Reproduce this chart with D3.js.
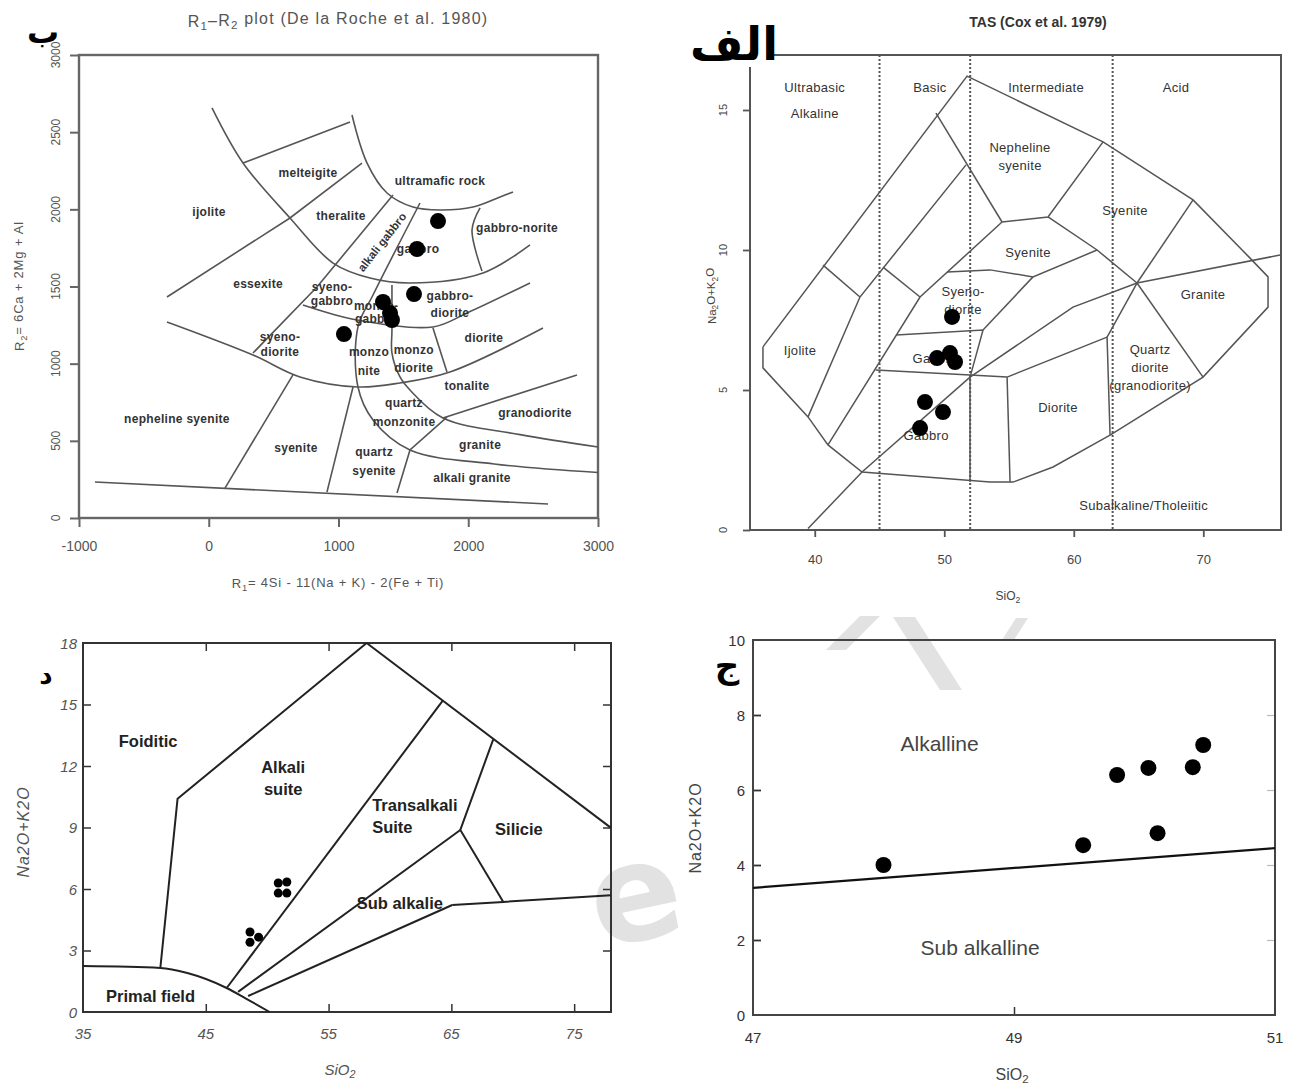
<!DOCTYPE html>
<html>
<head>
<meta charset="utf-8">
<script src="https://cdn.jsdelivr.net/npm/d3@7"></script>
<style>
  body { margin: 0; background: #fff; }
  svg { display: block; }
</style>
</head>
<body>
<svg id="fig" width="1289" height="1090"></svg>
<script>
// ===================== data =====================
// R1-R2 diagram (De la Roche et al. 1980)
const r1r2XTicks = [-1000, 0, 1000, 2000, 3000];
const r1r2YTicks = [0, 500, 1000, 1500, 2000, 2500, 3000];
const r1r2Samples = [[1767, 1924], [1605, 1743], [1582, 1451], [1343, 1400], [1397, 1328], [1412, 1283], [1042, 1192]];
const r1r2Straight = [
  [[-877, 233], [2615, 91]],
  [[264, 2300], [1089, 2566]],
  [[-322, 1432], [626, 1944], [1181, 2300]],
  [[1420, 2093], [834, 1497], [341, 1069]],
  [[649, 927], [125, 194]],
  [[1112, 849], [911, 168]],
  [[1836, 654], [1551, 441], [1451, 162]],
  [[1805, 648], [2838, 927]],
  [[1728, 1231], [1836, 946]]
];
const r1r2Curved = [
  [[1104, 2611], [1220, 2300], [1374, 2106], [1574, 2015], [1782, 1996], [2037, 2015], [2245, 2080], [2345, 2112]],
  [[25, 2657], [264, 2300], [626, 1944], [958, 1652], [1243, 1555], [1551, 1523], [2114, 1588], [2476, 1769]],
  [[-322, 1270], [341, 1056], [703, 914], [1150, 849], [1474, 875], [1859, 946], [2576, 1231]],
  [[1628, 2041], [1266, 1445], [1150, 1238], [1150, 849], [1266, 635], [1551, 441], [2200, 350], [3000, 295]],
  [[1412, 1510], [1412, 1218], [1412, 1069], [1474, 914], [1551, 829], [1805, 648], [2400, 540], [3000, 460]],
  [[726, 1380], [1143, 1283], [1728, 1238], [1990, 1328], [2476, 1523]],
  [[2091, 2009], [2029, 1866], [2106, 1600]]
];
const r1r2Names = [
  { t: ["melteigite"], x: 765, y: 2235 },
  { t: ["ultramafic rock"], x: 1782, y: 2184 },
  { t: ["ijolite"], x: 2, y: 1983 },
  { t: ["theralite"], x: 1019, y: 1957 },
  { t: ["gabbro-norite"], x: 2376, y: 1879 },
  { t: ["gabbro"], x: 1613, y: 1743 },
  { t: ["essexite"], x: 380, y: 1516 },
  { t: ["syeno-", "gabbro"], x: 950, y: 1497, lh: 14 },
  { t: ["monzo-", "gabbro"], x: 1290, y: 1372, lh: 13 },
  { t: ["gabbro-", "diorite"], x: 1859, y: 1438, lh: 17 },
  { t: ["diorite"], x: 2121, y: 1166 },
  { t: ["syeno-", "diorite"], x: 549, y: 1173, lh: 15 },
  { t: ["monzo", "nite"], x: 1235, y: 1076, lh: 19 },
  { t: ["monzo", "diorite"], x: 1580, y: 1089, lh: 18 },
  { t: ["tonalite"], x: 1990, y: 855 },
  { t: ["nepheline syenite"], x: -245, y: 641 },
  { t: ["syenite"], x: 672, y: 454 },
  { t: ["quartz", "monzonite"], x: 1505, y: 745, lh: 19 },
  { t: ["granodiorite"], x: 2514, y: 680 },
  { t: ["granite"], x: 2091, y: 473 },
  { t: ["quartz", "syenite"], x: 1274, y: 428, lh: 19 },
  { t: ["alkali granite"], x: 2029, y: 259 }
];

// TAS diagram (Cox et al. 1979)
const tasXTicks = [40, 50, 60, 70];
const tasYTicks = [0, 5, 10, 15];
const tasDivisions = [45, 52, 63];
const tasSamples = [[50.6, 7.61], [49.44, 6.14], [50.44, 6.32], [50.83, 6.0], [48.51, 4.57], [49.9, 4.21], [48.13, 3.64]];
const tasOutline = [[36.0, 6.54], [51.76, 16.21], [62.26, 13.86], [69.21, 11.79], [73.61, 9.71], [75.0, 9.04], [75.0, 7.96],
  [69.98, 5.46], [62.8, 3.39], [58.4, 2.25], [55.31, 1.71], [53.53, 1.71], [43.65, 2.07], [41.02, 3.04], [39.48, 4.04],
  [36.0, 5.79], [36.0, 6.54]];
const tasAlkalineLine = [[39.48, 0.05], [43.65, 2.07], [51.99, 5.46], [59.94, 7.96], [64.88, 8.82], [75.93, 9.82]];
const tasBoundaries = [
  [[40.64, 9.46], [43.49, 8.32]],
  [[39.48, 4.04], [43.49, 8.32], [51.68, 13.04]],
  [[45.27, 9.39], [48.13, 8.32]],
  [[41.02, 3.04], [48.13, 8.32], [54.46, 11.0]],
  [[49.36, 14.89], [54.46, 11.0]],
  [[54.46, 11.0], [58.01, 11.18], [62.26, 13.86]],
  [[58.01, 11.18], [61.8, 10.0], [64.88, 8.82]],
  [[69.21, 11.79], [64.88, 8.82]],
  [[64.88, 8.82], [69.98, 5.46]],
  [[64.88, 8.82], [62.57, 6.89], [62.8, 3.39]],
  [[54.85, 5.46], [62.57, 6.89]],
  [[54.85, 5.46], [55.08, 1.71]],
  [[44.7, 5.71], [51.99, 5.54], [54.85, 5.46]],
  [[51.99, 5.46], [51.99, 1.71]],
  [[46.27, 6.96], [52.99, 7.14], [51.99, 5.46]],
  [[50.21, 9.21], [53.53, 9.29], [56.85, 9.04], [61.8, 10.0]],
  [[56.85, 9.04], [52.99, 7.14]]
];
const tasNames = [
  { t: ["Ultrabasic", "Alkaline"], x: 40.0, y: 15.82, lh: 26 },
  { t: ["Basic"], x: 48.9, y: 15.82 },
  { t: ["Intermediate"], x: 57.86, y: 15.82 },
  { t: ["Acid"], x: 67.9, y: 15.82 },
  { t: ["Nepheline", "syenite"], x: 55.85, y: 13.68 },
  { t: ["Syenite"], x: 63.96, y: 11.43 },
  { t: ["Syenite"], x: 56.47, y: 9.93 },
  { t: ["Granite"], x: 69.98, y: 8.43 },
  { t: ["Syeno-", "diorite"], x: 51.45, y: 8.54 },
  { t: ["Gabbro"], x: 49.3, y: 6.14 },
  { t: ["Ijolite"], x: 38.86, y: 6.43 },
  { t: ["Quartz", "diorite", "(granodiorite)"], x: 65.89, y: 6.46 },
  { t: ["Diorite"], x: 58.78, y: 4.39 },
  { t: ["Gabbro"], x: 48.6, y: 3.39 },
  { t: ["Subalkaline/Tholeiitic"], x: 65.4, y: 0.89 }
];

// Alkali-silica series diagram
const serXTicks = [35, 45, 55, 65, 75];
const serYTicks = [0, 3, 6, 9, 12, 15, 18];
const serSamples = [[50.9, 6.29], [51.6, 6.34], [50.9, 5.8], [51.6, 5.8], [48.6, 3.9], [49.3, 3.65], [48.6, 3.4]];
const serPrimal = [[35, 2.24], [41.3, 2.15], [43.5, 1.9], [46.7, 1.17], [48.2, 0.68], [50.2, 0]];
const serBoundaries = [
  [[41.3, 2.15], [42.7, 10.4], [58.1, 18]],
  [[58.1, 18], [78, 8.98]],
  [[64.3, 15.19], [46.7, 1.17]],
  [[65.73, 8.88], [47.63, 0.98]],
  [[65.07, 5.22], [48.45, 0.78]],
  [[65.07, 5.22], [69.23, 5.37], [78, 5.7]],
  [[68.41, 13.3], [65.73, 8.88], [69.23, 5.37]]
];
const serNames = [
  { t: ["Foiditic"], x: 40.3, y: 13.2, a: "middle" },
  { t: ["Alkali", "suite"], x: 51.3, y: 11.95, a: "middle" },
  { t: ["Transalkali", "Suite"], x: 58.55, y: 10.1, a: "start" },
  { t: ["Silicie"], x: 70.5, y: 8.93, a: "middle" },
  { t: ["Sub alkalie"], x: 60.8, y: 5.32, a: "middle" },
  { t: ["Primal field"], x: 40.5, y: 0.78, a: "middle" }
];

// Alkaline / sub-alkaline divide
const divXTicks = [47, 49, 51];
const divYTicks = [0, 2, 4, 6, 8, 10];
const divSamples = [[48.0, 4.0], [49.53, 4.53], [49.79, 6.4], [50.03, 6.59], [50.1, 4.85], [50.37, 6.61], [50.45, 7.2]];
const divLine = [[47, 3.39], [51, 4.45]];

// ===================== drawing =====================
const FONT = "'Liberation Sans', Arial, Helvetica, sans-serif";
const ARABIC = "'DejaVu Sans', sans-serif";
const svg = d3.select("#fig");
svg.append("rect").attr("width", 1289).attr("height", 1090).attr("fill", "#fff");

// faint background stamp behind the lower panels
{
  const wm = svg.append("g").attr("fill", "#e2e2e2").attr("stroke", "none");
  wm.append("text").attr("x", 636).attr("y", 940).attr("text-anchor", "middle")
    .attr("font-family", ARABIC).attr("font-weight", "bold").attr("font-size", 135)
    .attr("transform", "rotate(-12,636,900)").text("e");
  wm.append("path").attr("d", "M826,650 L846,650 L880,616 L860,616 Z");
  wm.append("path").attr("d", "M893,617 L915,617 L962,690 L940,690 Z");
  wm.append("path").attr("d", "M1002,640 L1014,640 L1028,618 L1016,618 Z");
}

const pathOf = (sx, sy, curve) => d3.line().x(d => sx(d[0])).y(d => sy(d[1])).curve(curve || d3.curveLinear);

// text with subscript parts: [[text, isSub], ...]
function rich(sel, parts) {
  parts.forEach(([s, isSub], i) => {
    const t = sel.append("tspan").text(s);
    if (isSub) t.attr("font-size", "72%").attr("dy", "0.3em");
    else if (i > 0 && parts[i - 1][1]) t.attr("dy", "-0.3em");
  });
  return sel;
}

function multiLine(g, names, sx, sy, opts) {
  names.forEach(n => {
    const lh = n.lh || opts.lh;
    const t = g.append("text")
      .attr("x", sx(n.x)).attr("y", sy(n.y))
      .attr("text-anchor", n.a || "middle")
      .attr("dominant-baseline", "central")
      .attr("font-family", FONT).attr("font-size", opts.size)
      .attr("font-weight", opts.weight || "normal")
      .attr("letter-spacing", opts.ls || 0)
      .attr("fill", opts.fill);
    n.t.forEach((s, i) => t.append("tspan").attr("x", sx(n.x)).attr("dy", i === 0 ? 0 : lh).text(s));
  });
}

function styleAxis(g, color, width, size, fill, italic) {
  g.attr("font-family", FONT).attr("font-size", size);
  g.select(".domain").remove();
  g.selectAll(".tick line").attr("stroke", color).attr("stroke-width", width);
  g.selectAll(".tick text").attr("fill", fill).attr("font-style", italic ? "italic" : "normal");
}

// ---------- R1-R2 ----------
{
  const x = d3.scaleLinear().domain([-1000, 3000]).range([79, 598]);
  const y = d3.scaleLinear().domain([0, 3000]).range([518, 55]);
  const g = svg.append("g");

  g.append("text").attr("x", 338).attr("y", 27).attr("text-anchor", "middle")
    .attr("font-family", FONT).attr("font-size", 16).attr("letter-spacing", 1.2).attr("fill", "#555")
    .call(s => rich(s, [["R", 0], ["1", 1], ["–R", 0], ["2", 1], [" plot (De la Roche et al. 1980)", 0]]));

  g.append("g").attr("transform", "translate(0,518)")
    .call(d3.axisBottom(x).tickValues(r1r2XTicks).tickSize(9).tickSizeOuter(0).tickPadding(14)
      .tickFormat(d => String(d)))
    .call(a => styleAxis(a, "#666", 2, 14, "#555"));

  g.append("g").attr("transform", "translate(79,0)")
    .call(d3.axisLeft(y).tickValues(r1r2YTicks).tickSize(9).tickSizeOuter(0).tickFormat(""))
    .call(a => styleAxis(a, "#666", 2, 12, "#555"));
  g.selectAll(".r1r2-ylab").data(r1r2YTicks).join("text")
    .attr("transform", d => `translate(60,${y(d)}) rotate(-90)`)
    .attr("text-anchor", "middle").attr("font-family", FONT).attr("font-size", 12).attr("fill", "#555")
    .text(d => d);

  g.append("rect").attr("x", 79).attr("y", 55).attr("width", 519).attr("height", 463)
    .attr("fill", "none").attr("stroke", "#666").attr("stroke-width", 2.4);

  g.append("text").attr("x", 338).attr("y", 588).attr("text-anchor", "middle")
    .attr("font-family", FONT).attr("font-size", 13).attr("letter-spacing", 0.8).attr("fill", "#555")
    .call(s => rich(s, [["R", 0], ["1", 1], ["= 4Si - 11(Na + K) - 2(Fe + Ti)", 0]]));
  g.append("text").attr("transform", "translate(24,286) rotate(-90)").attr("text-anchor", "middle")
    .attr("font-family", FONT).attr("font-size", 13).attr("letter-spacing", 0.8).attr("fill", "#555")
    .call(s => rich(s, [["R", 0], ["2", 1], ["= 6Ca + 2Mg + Al", 0]]));

  const lines = g.append("g").attr("fill", "none").attr("stroke", "#555").attr("stroke-width", 1.6);
  r1r2Straight.forEach(l => lines.append("path").attr("d", pathOf(x, y)(l)));
  r1r2Curved.forEach(l => lines.append("path").attr("d", pathOf(x, y, d3.curveCatmullRom)(l)));

  g.append("text").attr("transform", `translate(${x(1335)},${y(1788)}) rotate(-52)`)
    .attr("text-anchor", "middle").attr("dominant-baseline", "central")
    .attr("font-family", FONT).attr("font-size", 11.5).attr("font-weight", "bold").attr("fill", "#333")
    .text("alkali gabbro");
  multiLine(g, r1r2Names, x, y, { size: 12, weight: "bold", fill: "#333", lh: 16, ls: 0.3 });

  g.selectAll(".r1r2-pt").data(r1r2Samples).join("circle")
    .attr("cx", d => x(d[0])).attr("cy", d => y(d[1])).attr("r", 8).attr("fill", "#000");

  g.append("text").attr("x", 43).attr("y", 43).attr("text-anchor", "middle")
    .attr("font-family", ARABIC).attr("font-size", 32).attr("font-weight", "bold")
    .attr("fill", "#000").text("ب");
}

// ---------- TAS ----------
{
  const x = d3.scaleLinear().domain([35, 76]).range([750, 1281]);
  const y = d3.scaleLinear().domain([0, 17]).range([530, 54]);
  const g = svg.append("g");

  g.append("text").attr("x", 1038).attr("y", 27).attr("text-anchor", "middle")
    .attr("font-family", FONT).attr("font-size", 14).attr("font-weight", "bold").attr("fill", "#333")
    .text("TAS (Cox et al. 1979)");

  g.append("g").attr("transform", "translate(0,530)")
    .call(d3.axisBottom(x).tickValues(tasXTicks).tickSize(7).tickSizeOuter(0).tickPadding(18))
    .call(a => styleAxis(a, "#555", 1.8, 13, "#444"));
  g.append("g").attr("transform", "translate(750,0)")
    .call(d3.axisLeft(y).tickValues(tasYTicks).tickSize(7).tickSizeOuter(0).tickFormat(""))
    .call(a => styleAxis(a, "#555", 1.8, 11, "#444"));
  g.selectAll(".tas-ylab").data(tasYTicks).join("text")
    .attr("transform", d => `translate(727,${y(d)}) rotate(-90)`)
    .attr("text-anchor", "middle").attr("font-family", FONT).attr("font-size", 11).attr("fill", "#444")
    .text(d => d);

  g.append("rect").attr("x", 750).attr("y", 55).attr("width", 531).attr("height", 475)
    .attr("fill", "none").attr("stroke", "#555").attr("stroke-width", 2);

  g.selectAll(".tas-div").data(tasDivisions).join("line")
    .attr("x1", d => x(d)).attr("x2", d => x(d)).attr("y1", 55).attr("y2", 530)
    .attr("stroke", "#555").attr("stroke-width", 2).attr("stroke-dasharray", "2,2");

  const lines = g.append("g").attr("fill", "none").attr("stroke", "#555").attr("stroke-width", 1.5);
  lines.append("path").attr("d", pathOf(x, y)(tasOutline));
  lines.append("path").attr("d", pathOf(x, y)(tasAlkalineLine));
  tasBoundaries.forEach(l => lines.append("path").attr("d", pathOf(x, y)(l)));

  multiLine(g, tasNames, x, y, { size: 13, fill: "#333", lh: 18, ls: 0.3 });

  g.append("text").attr("x", 1008).attr("y", 600).attr("text-anchor", "middle")
    .attr("font-family", FONT).attr("font-size", 12).attr("fill", "#444")
    .call(s => rich(s, [["SiO", 0], ["2", 1]]));
  g.append("text").attr("transform", "translate(716,296) rotate(-90)").attr("text-anchor", "middle")
    .attr("font-family", FONT).attr("font-size", 11.5).attr("fill", "#444")
    .call(s => rich(s, [["Na", 0], ["2", 1], ["O+K", 0], ["2", 1], ["O", 0]]));

  g.selectAll(".tas-pt").data(tasSamples).join("circle")
    .attr("cx", d => x(d[0])).attr("cy", d => y(d[1])).attr("r", 8).attr("fill", "#000");

  g.append("rect").attr("x", 692).attr("y", 30).attr("width", 82).attr("height", 37).attr("fill", "#fff");
  g.append("text").attr("x", 734).attr("y", 60).attr("text-anchor", "middle")
    .attr("font-family", ARABIC).attr("font-size", 46).attr("font-weight", "bold")
    .attr("fill", "#000").text("الف");
}

// ---------- series diagram ----------
{
  const x = d3.scaleLinear().domain([35, 78]).range([83, 611]);
  const y = d3.scaleLinear().domain([0, 18]).range([1012, 643]);
  const g = svg.append("g");

  const inner = (gen, t) => g.append("g").attr("transform", t)
    .call(gen.tickSize(-8).tickSizeOuter(0).tickFormat(""))
    .call(a => styleAxis(a, "#333", 1.5, 14, "#555"));
  inner(d3.axisBottom(x).tickValues(serXTicks.slice(1)), "translate(0,1012)");
  inner(d3.axisTop(x).tickValues(serXTicks.slice(1)), "translate(0,643)");
  inner(d3.axisLeft(y).tickValues(serYTicks.slice(1, -1)), "translate(83,0)");
  inner(d3.axisRight(y).tickValues(serYTicks.slice(1, -1)), "translate(611,0)");

  g.selectAll(".ser-xlab").data(serXTicks).join("text")
    .attr("x", d => x(d)).attr("y", 1039).attr("text-anchor", "middle")
    .attr("font-family", FONT).attr("font-size", 15).attr("font-style", "italic").attr("fill", "#555")
    .text(d => d);
  g.selectAll(".ser-ylab").data(serYTicks).join("text")
    .attr("x", 77).attr("y", d => y(d)).attr("text-anchor", "end").attr("dominant-baseline", "central")
    .attr("font-family", FONT).attr("font-size", 15).attr("font-style", "italic").attr("fill", "#555")
    .text(d => d);

  g.append("rect").attr("x", 83).attr("y", 643).attr("width", 528).attr("height", 369)
    .attr("fill", "none").attr("stroke", "#333").attr("stroke-width", 2);

  const lines = g.append("g").attr("fill", "none").attr("stroke", "#222").attr("stroke-width", 2);
  lines.append("path").attr("d", pathOf(x, y, d3.curveMonotoneX)(serPrimal));
  serBoundaries.forEach(l => lines.append("path").attr("d", pathOf(x, y)(l)));

  multiLine(g, serNames, x, y, { size: 16.5, weight: "bold", fill: "#222", lh: 22 });

  g.append("text").attr("x", 340).attr("y", 1075).attr("text-anchor", "middle")
    .attr("font-family", FONT).attr("font-size", 15).attr("font-style", "italic").attr("fill", "#555")
    .call(s => rich(s, [["SiO", 0], ["2", 1]]));
  g.append("text").attr("transform", "translate(29,832) rotate(-90)").attr("text-anchor", "middle")
    .attr("font-family", FONT).attr("font-size", 16).attr("letter-spacing", 1).attr("font-style", "italic")
    .attr("fill", "#555").text("Na2O+K2O");

  g.selectAll(".ser-pt").data(serSamples).join("circle")
    .attr("cx", d => x(d[0])).attr("cy", d => y(d[1])).attr("r", 4.5).attr("fill", "#000");

  g.append("text").attr("x", 46).attr("y", 684).attr("text-anchor", "middle")
    .attr("font-family", ARABIC).attr("font-size", 26).attr("font-weight", "bold")
    .attr("fill", "#000").text("د");
}

// ---------- alkaline / sub-alkaline ----------
{
  const x = d3.scaleLinear().domain([47, 51]).range([753, 1275]);
  const y = d3.scaleLinear().domain([0, 10]).range([1015, 640]);
  const g = svg.append("g");

  g.append("g").attr("transform", "translate(753,0)")
    .call(d3.axisLeft(y).tickValues(divYTicks.slice(1, -1)).tickSize(-8).tickSizeOuter(0).tickFormat(""))
    .call(a => styleAxis(a, "#333", 1.8, 14, "#444"));
  g.append("g").attr("transform", "translate(1275,0)")
    .call(d3.axisRight(y).tickValues(divYTicks.slice(1, -1)).tickSize(-8).tickSizeOuter(0).tickFormat(""))
    .call(a => styleAxis(a, "#bbb", 1.2, 14, "#444"));
  g.append("g").attr("transform", "translate(0,1015)")
    .call(d3.axisBottom(x).tickValues([49]).tickSize(-8).tickSizeOuter(0).tickFormat(""))
    .call(a => styleAxis(a, "#333", 1.5, 14, "#444"));

  g.selectAll(".div-xlab").data(divXTicks).join("text")
    .attr("x", d => x(d)).attr("y", 1043).attr("text-anchor", "middle")
    .attr("font-family", FONT).attr("font-size", 15).attr("fill", "#333")
    .text(d => d);
  g.selectAll(".div-ylab").data(divYTicks).join("text")
    .attr("x", 745).attr("y", d => y(d)).attr("text-anchor", "end").attr("dominant-baseline", "central")
    .attr("font-family", FONT).attr("font-size", 15).attr("fill", "#333")
    .text(d => d);

  g.append("rect").attr("x", 753).attr("y", 640).attr("width", 522).attr("height", 375)
    .attr("fill", "none").attr("stroke", "#444").attr("stroke-width", 2);

  g.append("path").attr("d", pathOf(x, y)(divLine)).attr("fill", "none")
    .attr("stroke", "#111").attr("stroke-width", 2.2);

  g.append("text").attr("x", x(48.43)).attr("y", y(7.25)).attr("text-anchor", "middle")
    .attr("dominant-baseline", "central").attr("font-family", FONT).attr("font-size", 21)
    .attr("fill", "#444").text("Alkalline");
  g.append("text").attr("x", x(48.74)).attr("y", y(1.81)).attr("text-anchor", "middle")
    .attr("dominant-baseline", "central").attr("font-family", FONT).attr("font-size", 21)
    .attr("fill", "#444").text("Sub alkalline");

  g.append("text").attr("x", 1012).attr("y", 1080).attr("text-anchor", "middle")
    .attr("font-family", FONT).attr("font-size", 16).attr("fill", "#444")
    .call(s => rich(s, [["SiO", 0], ["2", 1]]));
  g.append("text").attr("transform", "translate(701,828) rotate(-90)").attr("text-anchor", "middle")
    .attr("font-family", FONT).attr("font-size", 16).attr("letter-spacing", 1).attr("fill", "#444")
    .text("Na2O+K2O");

  g.selectAll(".div-pt").data(divSamples).join("circle")
    .attr("cx", d => x(d[0])).attr("cy", d => y(d[1])).attr("r", 8).attr("fill", "#000");

  g.append("text").attr("x", 727).attr("y", 678).attr("text-anchor", "middle")
    .attr("font-family", ARABIC).attr("font-size", 34).attr("font-weight", "bold")
    .attr("fill", "#000").text("ج");
}
</script>
</body>
</html>
